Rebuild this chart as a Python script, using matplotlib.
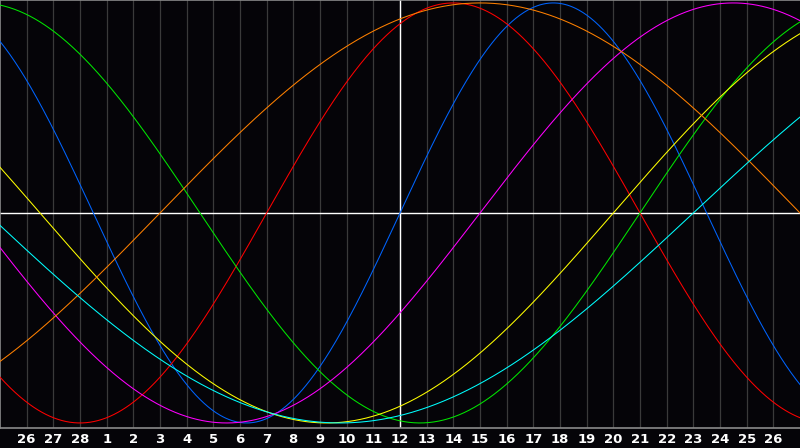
import matplotlib
matplotlib.use("Agg")
import matplotlib.pyplot as plt
import numpy as np

# biorhythm cycles (days) and their colours
periods = [23, 28, 33, 38, 43, 48, 53]
colors = ["#0064ff", "#ff0000", "#00e600", "#ff00ff", "#ffff00", "#ff8000", "#00ffff"]

# day labels along the bottom (Feb 26 .. Mar 26), today = 12
day_labels = [26, 27, 28] + list(range(1, 27))
today_index = 14
days_alive_today = 18009

n_days = len(day_labels)
x = np.linspace(0, n_days + 1, 801)
t = days_alive_today + (x - (today_index + 1))

fig = plt.figure(figsize=(8, 4.48), dpi=100, facecolor="#050408")
ax = fig.add_axes([0, 1 - 428 / 448, 1, 428 / 448])
ax.set_facecolor("#050408")

# day grid
for i in range(1, n_days + 1):
    ax.axvline(i, color="#3a3a3a", lw=0.9, zorder=1)

ax.axhline(0, color="white", lw=1.0, zorder=2)
ax.axvline(today_index + 1, color="white", lw=1.0, zorder=2)

for p, c in zip(periods, colors):
    ax.plot(x, np.sin(2 * np.pi * t / p), color=c, lw=0.75, zorder=3)

ax.set_xlim(0, n_days + 1)
ax.set_ylim(-1.024, 1.014)

ax.spines["right"].set_visible(False)
for s in ["left", "top", "bottom"]:
    ax.spines[s].set_color("#8a8a8a")
    ax.spines[s].set_linewidth(1.2)

ax.set_yticks([])
ax.set_xticks(range(1, n_days + 1))
ax.set_xticklabels([str(d) for d in day_labels], color="white",
                   fontsize=9.5, fontweight="bold")
ax.tick_params(axis="x", length=0, pad=3.5)

fig.savefig("out.png", dpi=100, facecolor=fig.get_facecolor())
